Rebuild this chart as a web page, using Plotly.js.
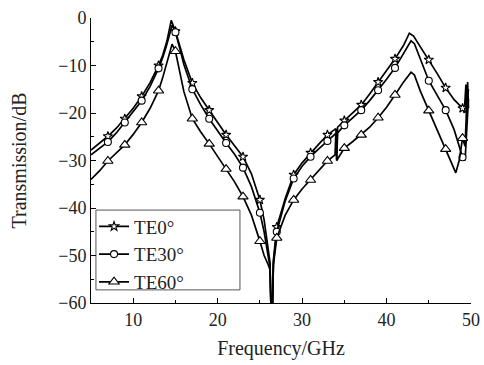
<!DOCTYPE html>
<html><head><meta charset="utf-8">
<script src="https://cdn.plot.ly/plotly-3.0.1.min.js"></script>
<style>html,body{margin:0;padding:0;background:#fff;}#chart{width:484px;height:365px;}</style>
</head><body><div id="chart"></div>
<script>
// ---- data ----
const te0Freq = [5,6,7,8,9,10,11,12,13,13.5,14,14.5,15,15.5,16,17,18,19,20,21,22,23,24,25,25.5,26,26.2,26.3,26.5,26.6,27,28,29,30,31,32,33,34,34.1,34.2,35,36,37,38,39,40,41,42,42.7,43.2,44,45,46,47,48,49,49.2,49.4,49.5,49.6,49.7];
const te0dB   = [-27.8,-26.4,-24.9,-23.2,-21.2,-19,-16.5,-13.6,-10,-7.8,-4.8,-0.5,-2.8,-5.8,-8.8,-13.7,-16.8,-19.4,-22,-24.6,-26.9,-29.2,-32.8,-38.3,-42.5,-48.5,-51.5,-60,-60,-51,-44,-38,-33,-30.5,-28.4,-26.5,-24.6,-23.3,-28.5,-23,-21.6,-19.9,-18.3,-16,-13.5,-11.2,-8.6,-5.8,-3.2,-3.8,-6,-8.8,-11.7,-14.7,-17.2,-19,-20,-14,-21,-13.5,-19];

const te30Freq = [5,6,7,8,9,10,11,12,13,13.5,14,14.6,15,15.5,16,17,18,19,20,21,22,23,24,25,25.5,26,26.2,26.3,26.5,26.6,27,28,29,30,31,32,33,34,34.1,34.2,35,36,37,38,39,40,41,42,42.9,43.3,44,45,46,47,48,49,49.3,49.5,49.7];
const te30dB   = [-28.8,-27.5,-26.1,-24.2,-22,-19.8,-17.4,-14.4,-10.6,-8.3,-5.5,-1.5,-3,-6.3,-9.8,-15,-18.3,-21.2,-23.8,-26.3,-28.7,-31.5,-35.5,-41,-45,-50,-52.5,-60,-60,-51.5,-45,-38.5,-33.8,-31.2,-29.2,-27.5,-25.9,-24.3,-30,-24.2,-22.6,-21,-19.4,-17.4,-15.2,-12.9,-10.5,-7.6,-4.8,-5.4,-8.6,-13.2,-16.3,-19.4,-23.5,-29.3,-30,-22,-17];

const te60Freq = [5,6,7,8,9,10,11,12,13,13.5,14,14.6,15,15.5,16,17,18,19,20,21,22,23,24,25,25.5,26,26.2,26.3,26.5,26.6,27,28,29,30,31,32,33,33.9,34,34.1,35,36,37,38,39,40,41,42,42.9,43.3,44,45,46,47,47.5,48.2,48.6,49,49.3,49.5,49.7];
const te60dB   = [-34,-32.2,-30.1,-28.4,-26.7,-24.5,-22,-19,-15.3,-12.5,-9.5,-5.5,-7,-11,-15.5,-21.2,-24,-26.5,-29.2,-31.8,-34.5,-37.6,-41.5,-47,-50,-52,-53,-60,-60,-52,-46.3,-41.5,-38.3,-36,-34.1,-32,-30.1,-28.8,-24.2,-30,-27.4,-26,-24.6,-23,-21,-18.8,-16.2,-13.5,-11.4,-12,-15.4,-19.5,-23.5,-27.6,-30,-32.6,-30,-25.3,-27,-18,-15];

const seriesNames = ["TE0°", "TE30°", "TE60°"];
const xTickVals = [10, 20, 30, 40, 50];
const yTickVals = [0, -10, -20, -30, -40, -50, -60];

// ---- styling ----
const symbols = ["star", "circle", "triangle-up"];
const markerSizes = [7, 7, 9];
const freqs = [te0Freq, te30Freq, te60Freq];
const vals = [te0dB, te30dB, te60dB];

function markerSubset(f, v) {
  const xs = [], ys = [];
  f.forEach((x, i) => {
    if (Number.isInteger(x) && x % 2 === 1 && x >= 7) { xs.push(x); ys.push(v[i]); }
  });
  return {xs, ys};
}

const traces = [];
for (let s = 0; s < 3; s++) {
  const mk = {symbol: symbols[s], size: markerSizes[s], color: "#fff", line: {color: "#000", width: 1.1}};
  traces.push({x: freqs[s], y: vals[s], mode: "lines", line: {color: "#000", width: 1.7},
               showlegend: false, hoverinfo: "skip"});
  const sub = markerSubset(freqs[s], vals[s]);
  traces.push({x: sub.xs, y: sub.ys, mode: "markers", marker: mk, showlegend: false});
  traces.push({x: [null], y: [null], mode: "lines+markers", name: seriesNames[s],
               line: {color: "#000", width: 1.7}, marker: mk, showlegend: true});
}

const axisBase = {
  showline: true, linecolor: "#000", linewidth: 1, mirror: false,
  showgrid: false, zeroline: false,
  ticks: "inside", ticklen: 5, tickcolor: "#000", tickwidth: 1,
  tickfont: {size: 18, color: "#222"}
};

const layout = {
  width: 484, height: 365,
  margin: {l: 91, r: 13, t: 18, b: 62},
  paper_bgcolor: "#fff", plot_bgcolor: "#fff",
  font: {family: "Liberation Serif, 'Times New Roman', serif", color: "#222", size: 18},
  xaxis: Object.assign({}, axisBase, {
    range: [5, 50], tickvals: xTickVals,
    minor: {dtick: 5, tick0: 0, ticks: "inside", ticklen: 3, tickcolor: "#000", showgrid: false},
    title: {text: "Frequency/GHz", font: {size: 20, color: "#222"}, standoff: 12}
  }),
  yaxis: Object.assign({}, axisBase, {
    range: [-60, 0], tickvals: yTickVals,
    minor: {dtick: 5, tick0: 0, ticks: "inside", ticklen: 3, tickcolor: "#000", showgrid: false},
    title: {text: "Transmission/dB", font: {size: 20, color: "#222"}, standoff: 26}
  }),
  legend: {x: 0.008, xanchor: "left", y: 0.335, yanchor: "top",
           bgcolor: "rgba(0,0,0,0)", borderwidth: 0, font: {size: 19, color: "#222"},
           tracegroupgap: 0},
  shapes: [{type: "rect", xref: "paper", yref: "paper", x0: 0.013, x1: 0.392, y0: 0.046, y1: 0.326,
            line: {color: "#555", width: 1}, fillcolor: "#fff", layer: "below"}]
};

Plotly.newPlot("chart", traces, layout, {displayModeBar: false, staticPlot: true});
</script>
</body></html>
